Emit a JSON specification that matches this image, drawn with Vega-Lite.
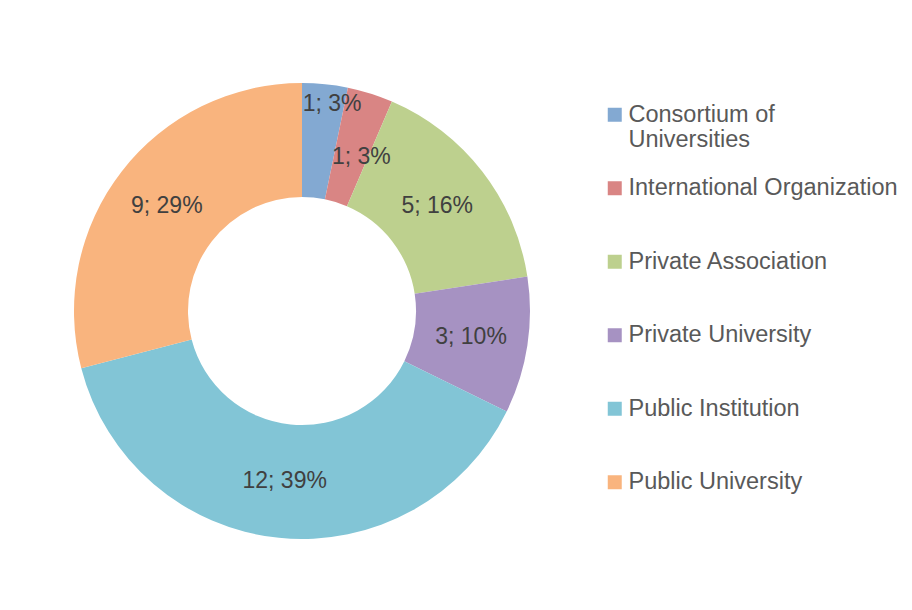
{
  "$schema": "https://vega.github.io/schema/vega-lite/v6.json",
  "width": 588,
  "height": 606,
  "padding": {"left": 8, "top": 8, "right": 0, "bottom": 0},
  "background": "white",
  "config": {"view": {"stroke": null}},
  "data": {
    "values": [
      {"category": "Consortium of Universities", "count": 1, "label": "1; 3%"},
      {"category": "International Organization", "count": 1, "label": "1; 3%"},
      {"category": "Private Association", "count": 5, "label": "5; 16%"},
      {"category": "Private University", "count": 3, "label": "3; 10%"},
      {"category": "Public Institution", "count": 12, "label": "12; 39%"},
      {"category": "Public University", "count": 9, "label": "9; 29%"}
    ]
  },
  "encoding": {
    "theta": {"field": "count", "type": "quantitative", "stack": true},
    "order": {"field": "category", "type": "nominal"}
  },
  "layer": [
    {
      "mark": {"type": "arc", "innerRadius": 114, "outerRadius": 228, "stroke": null},
      "encoding": {
        "color": {
          "field": "category",
          "type": "nominal",
          "scale": {
            "domain": ["Consortium of Universities", "International Organization", "Private Association", "Private University", "Public Institution", "Public University"],
            "range": ["#83A9D2", "#D98584", "#BDD08E", "#A692C2", "#82C5D6", "#F9B47E"]
          },
          "legend": {
            "title": null,
            "orient": "none",
            "legendX": 595,
            "legendY": 95,
            "padding": 0,
            "symbolType": "square",
            "symbolSize": 196,
            "symbolStrokeWidth": 0,
            "labelFont": "Liberation Sans",
            "labelFontSize": 23.5,
            "labelColor": "#595959",
            "labelOffset": 2,
            "labelLimit": 400,
            "labelExpr": "datum.label == 'Consortium of Universities' ? ['Consortium of', 'Universities'] : datum.label",
            "gridAlign": "all",
            "rowPadding": 23.5
          }
        }
      }
    },
    {
      "mark": {"type": "text", "radius": 171, "font": "Liberation Sans", "fontSize": 23, "fill": "#404040", "baseline": "middle", "align": "center"},
      "encoding": {
        "text": {
          "condition": {"test": "datum.count > 1", "field": "label"},
          "value": ""
        }
      }
    },
    {
      "mark": {"type": "text", "radius": 208, "dx": 9, "font": "Liberation Sans", "fontSize": 23, "fill": "#404040", "baseline": "middle", "align": "center"},
      "encoding": {
        "text": {
          "condition": {"test": "datum.category == 'Consortium of Universities'", "field": "label"},
          "value": ""
        }
      }
    },
    {
      "mark": {"type": "text", "radius": 165, "dx": 10, "dy": 3, "font": "Liberation Sans", "fontSize": 23, "fill": "#404040", "baseline": "middle", "align": "center"},
      "encoding": {
        "text": {
          "condition": {"test": "datum.category == 'International Organization'", "field": "label"},
          "value": ""
        }
      }
    }
  ]
}
